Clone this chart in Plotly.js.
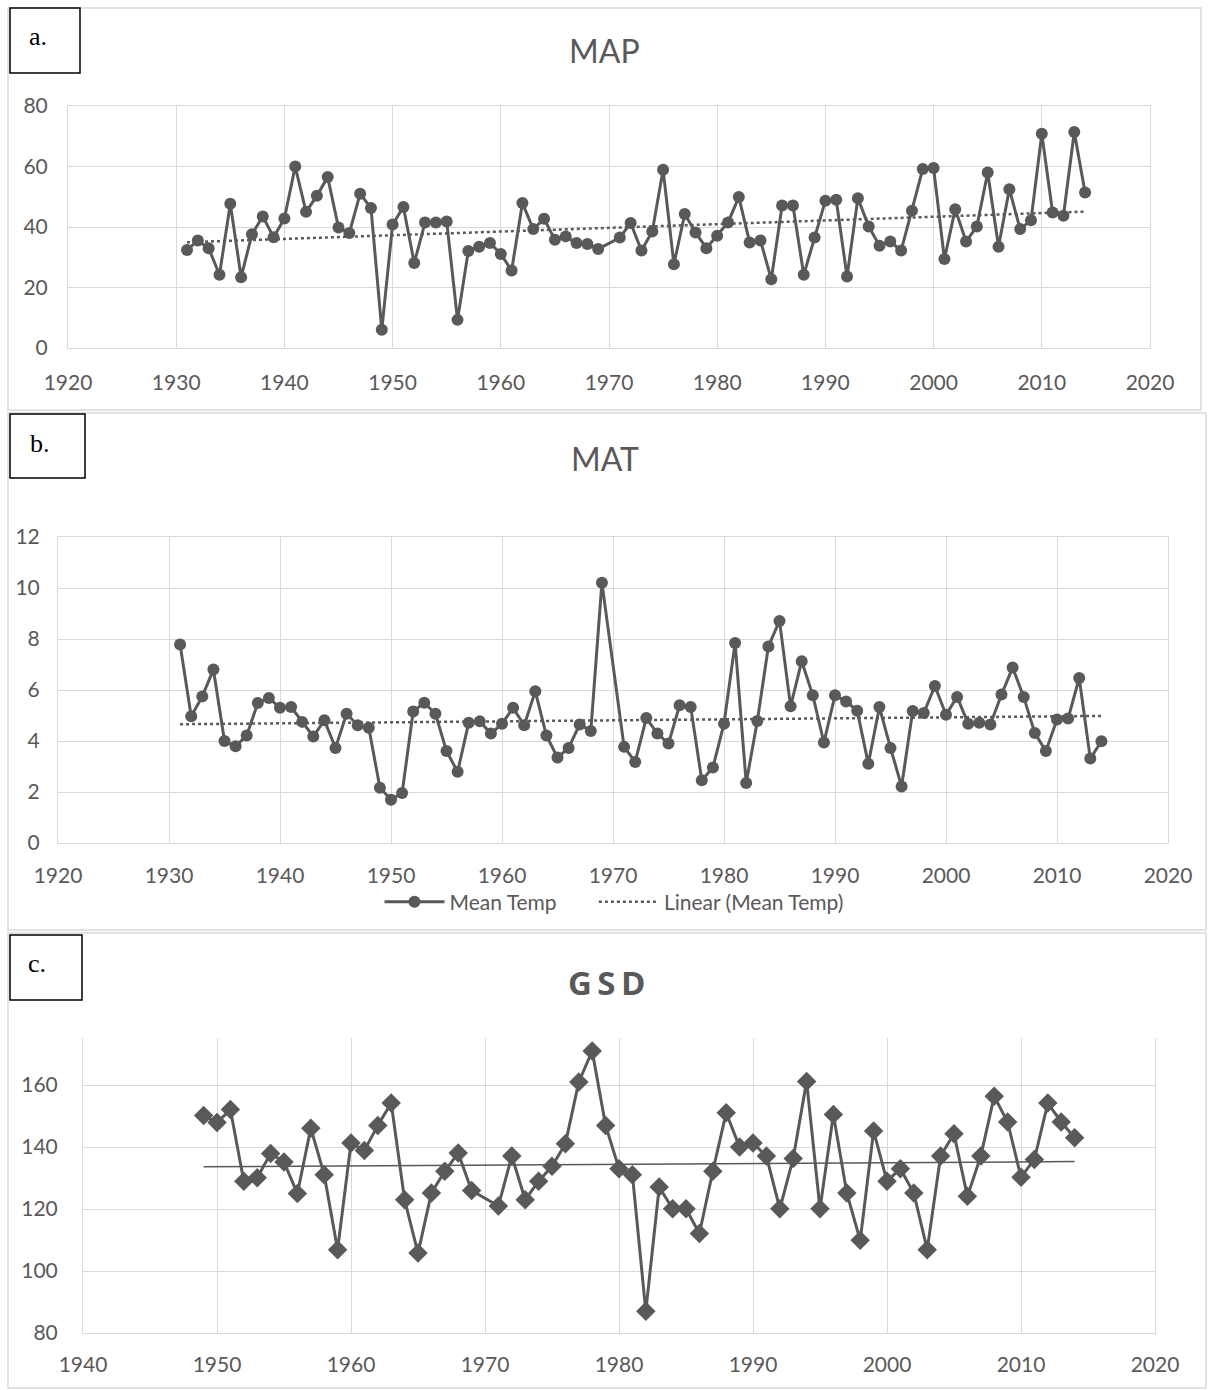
<!DOCTYPE html>
<html>
<head>
<meta charset="utf-8">
<script src="https://cdn.plot.ly/plotly-3.0.1.min.js"></script>
<style>
  html, body { margin: 0; padding: 0; background: #ffffff; }
  #chart { width: 1209px; height: 1390px; }
</style>
</head>
<body>
<div id="chart"></div>
<script>
// ---------- DATA ----------
const mapYears = [1931,1932,1933,1934,1935,1936,1937,1938,1939,1940,1941,1942,1943,1944,1945,1946,1947,1948,1949,1950,1951,1952,1953,1954,1955,1956,1957,1958,1959,1960,1961,1962,1963,1964,1965,1966,1967,1968,1969,
  1971,1972,1973,1974,1975,1976,1977,1978,1979,1980,1981,1982,1983,1984,1985,1986,1987,1988,1989,1990,1991,1992,1993,1994,1995,1996,1997,1998,1999,2000,2001,2002,2003,2004,2005,2006,2007,2008,2009,2010,2011,2012,2013,2014];
const mapValues = [32.4,35.5,33.0,24.2,47.7,23.4,37.6,43.5,36.6,42.8,60.0,45.0,50.3,56.5,39.8,38.0,51.0,46.3,6.0,40.8,46.6,28.1,41.5,41.5,41.8,9.3,32.1,33.5,34.7,31.1,25.6,47.9,39.3,42.7,35.8,36.9,34.7,34.4,32.7,
  36.5,41.3,32.2,38.5,58.9,27.7,44.3,38.2,33.0,37.1,41.5,49.9,34.9,35.5,22.7,47.1,47.1,24.2,36.5,48.7,49.0,23.6,49.5,40.2,33.8,35.2,32.2,45.4,59.2,59.5,29.4,45.9,35.2,40.2,58.0,33.5,52.5,39.3,42.2,70.8,44.8,43.7,71.4,51.4];

const matYears = mapYears.slice();
const matValues = [7.78,4.97,5.75,6.80,4.00,3.79,4.22,5.49,5.69,5.30,5.33,4.75,4.18,4.81,3.73,5.07,4.62,4.52,2.17,1.70,1.96,5.16,5.50,5.07,3.61,2.79,4.72,4.77,4.29,4.68,5.30,4.62,5.95,4.22,3.35,3.73,4.65,4.39,10.21,
  3.77,3.18,4.90,4.29,3.90,5.40,5.33,2.46,2.96,4.68,7.84,2.35,4.78,7.71,8.71,5.36,7.13,5.79,3.94,5.79,5.55,5.19,3.11,5.33,3.73,2.22,5.18,5.10,6.16,5.03,5.73,4.68,4.72,4.65,5.82,6.88,5.73,4.31,3.61,4.84,4.88,6.47,3.31,3.99];

const gsdYears = [1949,1950,1951,1952,1953,1954,1955,1956,1957,1958,1959,1960,1961,1962,1963,1964,1965,1966,1967,1968,1969,
  1971,1972,1973,1974,1975,1976,1977,1978,1979,1980,1981,1982,1983,1984,1985,1986,1987,1988,1989,1990,1991,1992,1993,1994,1995,1996,1997,1998,1999,2000,2001,2002,2003,2004,2005,2006,2007,2008,2009,2010,2011,2012,2013,2014];
const gsdValues = [150.2,147.9,152.1,129.0,130.1,137.9,135.2,125.0,146.1,131.1,106.9,141.3,138.9,147.0,154.2,123.0,105.8,125.2,132.2,138.1,126.0,
  121.0,137.1,123.0,129.0,133.8,141.1,161.0,171.0,147.0,133.0,131.1,87.0,127.1,120.1,120.1,112.1,132.2,151.1,140.0,141.3,137.1,120.1,136.3,161.2,120.1,150.5,125.2,109.9,145.2,129.0,133.0,125.2,106.9,137.1,144.3,124.1,137.1,156.4,148.1,130.3,136.0,154.2,148.1,143.0];

const panelTitles = ["MAP", "MAT", "GSD"];
const panelLabels = ["a.", "b.", "c."];
const legendNames = ["Mean Temp", "Linear (Mean Temp)"];

// ---------- HELPERS ----------
const W = 1209, H = 1390;
const px = v => v / W;
const py = v => 1 - v / H;

// least-squares linear trend (as Excel's "Linear" trendline)
function linearTrend(xs, ys) {
  const n = xs.length;
  let sx = 0, sy = 0, sxx = 0, sxy = 0;
  for (let i = 0; i < n; i++) { sx += xs[i]; sy += ys[i]; sxx += xs[i]*xs[i]; sxy += xs[i]*ys[i]; }
  const b = (n*sxy - sx*sy) / (n*sxx - sx*sx);
  const a = (sy - b*sx) / n;
  const x0 = xs[0], x1 = xs[n-1];
  return { x: [x0, x1], y: [a + b*x0, a + b*x1] };
}

const DARK = '#595959';
const GRID = '#d9d9d9';
const FONT = 'Lato, "Open Sans", "Liberation Sans", sans-serif';
const SERIF = '"Liberation Serif", "DejaVu Serif", serif';
const NB = '\u00a0';

const trendA = linearTrend(mapYears, mapValues);
const trendB = linearTrend(matYears, matValues);
const trendC = linearTrend(gsdYears, gsdValues);

const traces = [
  { x: mapYears, y: mapValues, xaxis: 'x', yaxis: 'y', type: 'scatter', mode: 'lines+markers',
    line: { color: DARK, width: 3 }, marker: { symbol: 'circle', size: 12, color: DARK }, showlegend: false, hoverinfo: 'skip' },
  { x: trendA.x, y: trendA.y, xaxis: 'x', yaxis: 'y', type: 'scatter', mode: 'lines',
    line: { color: DARK, width: 2.5, dash: 'dot' }, showlegend: false, hoverinfo: 'skip' },

  { x: matYears, y: matValues, xaxis: 'x2', yaxis: 'y2', type: 'scatter', mode: 'lines+markers', name: legendNames[0] + NB.repeat(6),
    line: { color: DARK, width: 3 }, marker: { symbol: 'circle', size: 12, color: DARK }, showlegend: true, hoverinfo: 'skip' },
  { x: trendB.x, y: trendB.y, xaxis: 'x2', yaxis: 'y2', type: 'scatter', mode: 'lines', name: legendNames[1],
    line: { color: DARK, width: 2.5, dash: 'dot' }, showlegend: true, hoverinfo: 'skip' },

  { x: gsdYears, y: gsdValues, xaxis: 'x3', yaxis: 'y3', type: 'scatter', mode: 'lines+markers',
    line: { color: DARK, width: 3 }, marker: { symbol: 'diamond', size: 15, color: DARK }, showlegend: false, hoverinfo: 'skip' },
  { x: trendC.x, y: trendC.y, xaxis: 'x3', yaxis: 'y3', type: 'scatter', mode: 'lines',
    line: { color: DARK, width: 1.5 }, showlegend: false, hoverinfo: 'skip' }
];

const tickFont = { family: FONT, size: 21, color: DARK };

function xAx(domain, range, anchor, standoff, mirror) {
  return { domain: domain, range: range, anchor: anchor, dtick: 10, tick0: 1920,
    showgrid: true, gridcolor: GRID, gridwidth: 1, zeroline: false,
    showline: true, linecolor: GRID, linewidth: 1, mirror: mirror,
    ticks: '', tickfont: tickFont, ticklabelstandoff: standoff, fixedrange: true };
}
function yAx(domain, range, anchor, dtick, standoff, mirror) {
  return { domain: domain, range: range, anchor: anchor, dtick: dtick, tick0: 0,
    showgrid: true, gridcolor: GRID, gridwidth: 1, zeroline: false,
    showline: true, linecolor: GRID, linewidth: 1, mirror: mirror,
    ticks: '', tickfont: tickFont, ticklabelstandoff: standoff, fixedrange: true };
}

const layout = {
  width: W, height: H,
  margin: { l: 0, r: 0, t: 0, b: 0 },
  paper_bgcolor: '#ffffff', plot_bgcolor: '#ffffff',
  font: { family: FONT, color: DARK },
  xaxis:  xAx([px(68), px(1150)], [1920, 2020], 'y', 16, true),
  yaxis:  yAx([py(348), py(106)], [0, 80], 'x', 20, 15, true),
  xaxis2: xAx([px(58), px(1168)], [1920, 2020], 'y2', 14, true),
  yaxis2: yAx([py(843), py(537)], [0, 12], 'x2', 2, 13, true),
  xaxis3: xAx([px(83), px(1155)], [1940, 2020], 'y3', 13, false),
  yaxis3: yAx([py(1333), py(1038)], [80, 175.2], 'x3', 20, 20, 'allticks'),
  showlegend: true,
  legend: { orientation: 'h', x: px(614), y: py(902), xanchor: 'center', yanchor: 'middle',
    font: { family: FONT, size: 21, color: DARK }, bgcolor: 'rgba(0,0,0,0)', itemwidth: 60, tracegroupgap: 0 },
  shapes: [
    // panel borders
    { type: 'rect', xref: 'paper', yref: 'paper', x0: px(8), x1: px(1201), y0: py(410), y1: py(8), line: { color: GRID, width: 1.5 } },
    { type: 'rect', xref: 'paper', yref: 'paper', x0: px(8), x1: px(1206), y0: py(930), y1: py(413), line: { color: GRID, width: 1.5 } },
    { type: 'rect', xref: 'paper', yref: 'paper', x0: px(8), x1: px(1206), y0: py(1388), y1: py(933), line: { color: GRID, width: 1.5 } },
    // label boxes
    { type: 'rect', xref: 'paper', yref: 'paper', x0: px(10), x1: px(80), y0: py(73), y1: py(8), line: { color: '#000000', width: 1.5 }, fillcolor: '#ffffff' },
    { type: 'rect', xref: 'paper', yref: 'paper', x0: px(10), x1: px(85), y0: py(478), y1: py(414), line: { color: '#000000', width: 1.5 }, fillcolor: '#ffffff' },
    { type: 'rect', xref: 'paper', yref: 'paper', x0: px(10), x1: px(82), y0: py(1000), y1: py(935), line: { color: '#000000', width: 1.5 }, fillcolor: '#ffffff' }
  ],
  annotations: [
    { text: panelTitles[0], xref: 'paper', yref: 'paper', x: px(605), y: py(50), xanchor: 'center', yanchor: 'middle', showarrow: false,
      font: { family: FONT, size: 32, color: DARK } },
    { text: panelTitles[1], xref: 'paper', yref: 'paper', x: px(605), y: py(458), xanchor: 'center', yanchor: 'middle', showarrow: false,
      font: { family: FONT, size: 32, color: DARK } },
    { text: '<b>' + panelTitles[2].split('').join('\u2009') + '</b>', xref: 'paper', yref: 'paper', x: px(606), y: py(982), xanchor: 'center', yanchor: 'middle', showarrow: false,
      font: { family: '"Open Sans", Lato, sans-serif', size: 33, color: DARK } },
    { text: panelLabels[0], xref: 'paper', yref: 'paper', x: px(38), y: py(36), xanchor: 'center', yanchor: 'middle', showarrow: false,
      font: { family: SERIF, size: 26, color: '#000000' } },
    { text: panelLabels[1], xref: 'paper', yref: 'paper', x: px(40), y: py(443), xanchor: 'center', yanchor: 'middle', showarrow: false,
      font: { family: SERIF, size: 26, color: '#000000' } },
    { text: panelLabels[2], xref: 'paper', yref: 'paper', x: px(37), y: py(964), xanchor: 'center', yanchor: 'middle', showarrow: false,
      font: { family: SERIF, size: 26, color: '#000000' } }
  ]
};

Plotly.newPlot('chart', traces, layout, { staticPlot: true, displayModeBar: false });
</script>
</body>
</html>
